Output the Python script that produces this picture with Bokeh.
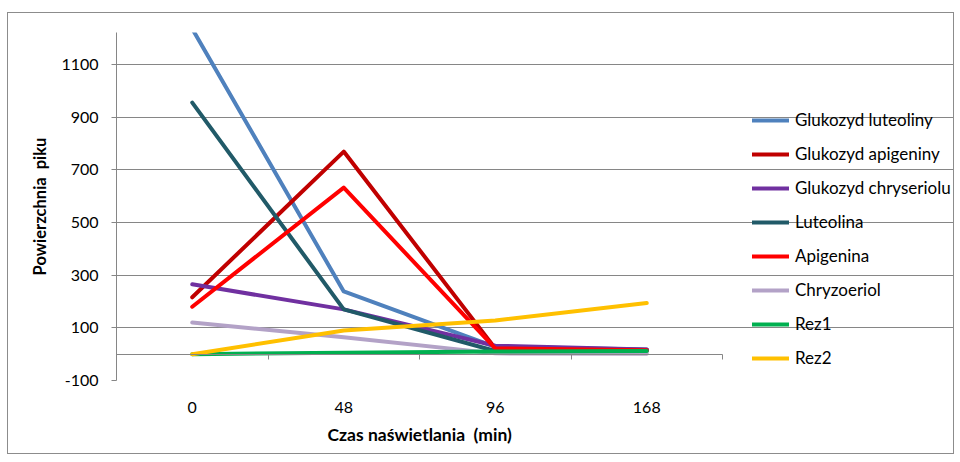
from bokeh.plotting import figure
from bokeh.models import Range1d, FixedTicker, LinearAxis, Legend, LegendItem, Title
from bokeh.embed import file_html
from bokeh.resources import INLINE

# ---- data ----
categories = ["0", "48", "96", "168"]
y_ticks = [-100, 100, 300, 500, 700, 900, 1100]
y_tick_labels = ["-100", "100", "300", "500", "700", "900", "1100"]

series_names = [
    "Glukozyd luteoliny",
    "Glukozyd apigeniny",
    "Glukozyd chryseriolu",
    "Luteolina",
    "Apigenina",
    "Chryzoeriol",
    "Rez1",
    "Rez2",
]
glukozyd_luteoliny = [1235, 238, 28, 18]
glukozyd_apigeniny = [216, 769, 22, 16]
glukozyd_chryseriolu = [265, 170, 32, 18]
luteolina = [955, 170, 12, 12]
apigenina = [180, 632, 22, 15]
chryzoeriol = [120, 64, 3, 2]
rez1 = [0, 5, 10, 12]
rez2 = [0, 90, 128, 194]

series_values = [glukozyd_luteoliny, glukozyd_apigeniny, glukozyd_chryseriolu,
                 luteolina, apigenina, chryzoeriol, rez1, rez2]
series_colors = ["#4F81BD", "#C00000", "#7030A0", "#215A68",
                 "#FF0000", "#B3A2C7", "#00B050", "#FFC000"]

FONT = "Lato"
GRID = "#868686"

x_pos = list(range(len(categories)))

# layout: plot area is 606 px wide for the 4 categories; the frame is widened
# to the right so the legend can sit inside it (grid/axis lines are bounded)
W, H = 947, 442
LEFT, TOP, BOTTOM = 108, 19, 75
CAT_PX = 606 / len(categories)
frame_w = W - LEFT
x_lo = -0.5
x_hi = x_lo + frame_w / CAT_PX
data_bounds = (x_lo, len(categories) - 0.5)

p = figure(width=W, height=H, output_backend="svg", toolbar_location=None,
           x_range=Range1d(x_lo, x_hi),
           y_range=Range1d(-100, 1221),
           min_border_left=LEFT, min_border_top=TOP,
           min_border_right=0, min_border_bottom=BOTTOM)
p.styles = {"border": "1px solid #8c8c8c", "margin-left": "7px", "margin-top": "12px"}
p.outline_line_color = None
p.background_fill_color = "white"
p.border_fill_color = "white"

p.xgrid.visible = False
p.ygrid.ticker = FixedTicker(ticks=y_ticks)
p.ygrid.grid_line_color = GRID
p.ygrid.grid_line_width = 1
p.ygrid.bounds = data_bounds

# y axis
ya = p.yaxis[0]
ya.ticker = FixedTicker(ticks=y_ticks)
ya.major_label_overrides = dict(zip(y_ticks, y_tick_labels))
ya.axis_line_color = GRID
ya.major_tick_line_color = GRID
ya.major_tick_in = 0
ya.major_tick_out = 5
ya.minor_tick_line_color = None
ya.major_label_text_font = FONT
ya.major_label_text_font_size = "16px"
ya.major_label_text_color = "black"
ya.major_label_standoff = 13
ya.axis_label = "Powierzchnia\u00a0\u00a0piku"
ya.axis_label_text_font = FONT
ya.axis_label_text_font_style = "bold"
ya.axis_label_text_font_size = "16.5px"
ya.axis_label_text_color = "black"
ya.axis_label_standoff = 8

# x axis (category labels only)
xa = p.xaxis[0]
xa.ticker = FixedTicker(ticks=x_pos)
xa.bounds = data_bounds
xa.major_label_overrides = {i: c for i, c in enumerate(categories)}
xa.axis_line_color = None
xa.major_tick_line_color = None
xa.major_tick_in = 0
xa.major_tick_out = 0
xa.minor_tick_line_color = None
xa.major_label_text_font = FONT
xa.major_label_text_font_size = "16px"
xa.major_label_text_color = "black"
xa.major_label_standoff = 21

# x axis title, placed under the plot area (not the widened frame)
x_title = Title(text="Czas naświetlania\u00a0\u00a0(min)", align="left", offset=211,
                text_font=FONT, text_font_size="17.5px", text_font_style="bold",
                text_color="black", standoff=12)
p.add_layout(x_title, "below")

# category axis line at y = 0 with tick marks between categories
zero_axis = LinearAxis(fixed_location=0, bounds=data_bounds,
                       ticker=FixedTicker(ticks=[i + 0.5 for i in x_pos]),
                       axis_line_color=GRID, major_tick_line_color=GRID,
                       major_tick_in=0, major_tick_out=5,
                       minor_tick_line_color=None,
                       major_label_text_color=None,
                       major_label_text_font_size="1px")
p.add_layout(zero_axis, "below")

items = []
for name, vals, col in zip(series_names, series_values, series_colors):
    r = p.line(x_pos, vals, line_color=col, line_width=4,
               line_cap="round", line_join="round")
    items.append(LegendItem(label=name, renderers=[r]))

legend = Legend(items=items, location=(636, 12),
                glyph_width=37, glyph_height=20, label_height=20,
                spacing=13, label_standoff=6, padding=0, margin=0,
                border_line_color=None, background_fill_alpha=0,
                label_text_font=FONT, label_text_font_size="17px",
                label_text_color="black")
p.add_layout(legend, "center")

open("out.html", "w").write(file_html(p, INLINE))
